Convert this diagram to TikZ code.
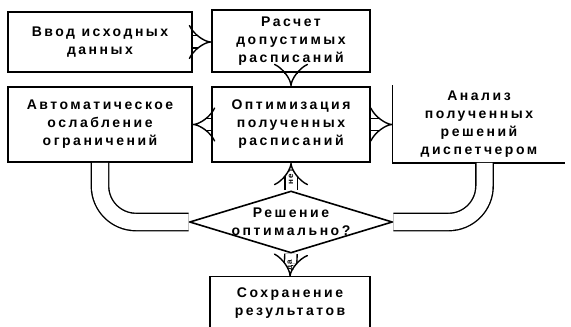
\documentclass[tikz,border=0pt]{standalone}
\usepackage{fontspec}
\newfontfamily\boxfont[LetterSpace = 18]{Liberation Sans}
\usepackage{tikz}
\usetikzlibrary{arrows.meta}
\usetikzlibrary{shapes.geometric}

\tikzset{
    txt/.style = {align = center, font = \boxfont\bfseries\fontsize{7}{9}\selectfont},
    box/.style = {txt, draw, line width = 0.8pt, inner sep = 0pt},
    hollow/.style = {double, double distance = 5.5pt, line width = 0.7pt, -{Implies[length = 5pt, width = 14pt]}},
    sweep/.style = {double, double distance = 8pt, line width = 0.7pt, rounded corners = 18pt},
    tag/.style = {font = \boxfont\bfseries\fontsize{4}{4}\selectfont, rotate = 90, inner sep = 0pt}
}

\begin{document}
\begin{tikzpicture}[x = 0.5pt, y = -0.5pt]
    \useasboundingbox (0, 0) rectangle (571, 326);
    % top row
    \node [box, minimum width = 92pt, minimum height = 30pt] (vvod) at (100, 42) {Ввод исходных\\данных};
    \node [box, minimum width = 79pt, minimum height = 31pt] (raschet) at (291, 41) {Расчет\\допустимых\\расписаний};
    % middle row
    \node [box, minimum width = 92pt, minimum height = 37.5pt] (avto) at (100, 124.5) {Автоматическое\\ослабление\\ограничений};
    \node [box, minimum width = 79pt, minimum height = 37.5pt] (optim) at (291, 124.5) {Оптимизация\\полученных\\расписаний};
    \node [txt, minimum width = 86pt, minimum height = 38.5pt, inner sep = 0pt] (analiz) at (479, 124) {Анализ\\полученных\\решений\\диспетчером};
    \draw [line width = 0.8pt] (analiz.north west) -- (analiz.south west) -- (analiz.south east);
    % decision
    \node [diamond, draw, line width = 0.8pt, minimum width = 101.5pt, minimum height = 31pt, inner sep = 0pt,
        label = {[txt] center:{Решение\\оптимально?}}] (resh) at (291, 222) {};
    % bottom
    \node [txt, minimum width = 79.5pt, minimum height = 26pt, inner sep = 0pt] (sokhr) at (290, 303) {Сохранение\\результатов};
    \draw [line width = 0.8pt] (sokhr.south west) -- (sokhr.north west) -- (sokhr.north east) -- (sokhr.south east);

    \draw [hollow] (vvod.east) -- (vvod.east -| raschet.west);
    \draw [hollow] (raschet.south) -- (optim.north);
    \draw [hollow] (optim.west) -- (avto.east);
    \draw [hollow] (optim.east) -- (optim.east -| analiz.west);
    \draw [hollow] (resh.north) -- node [tag] {нет} (optim.south);
    \draw [hollow] (resh.south) -- node [tag] {да} (sokhr.north);
    \draw [sweep] (avto.south) |- (resh.west);
    \draw [sweep] ([xshift = 2.75pt] analiz.south) |- (resh.east);
\end{tikzpicture}
\end{document}
